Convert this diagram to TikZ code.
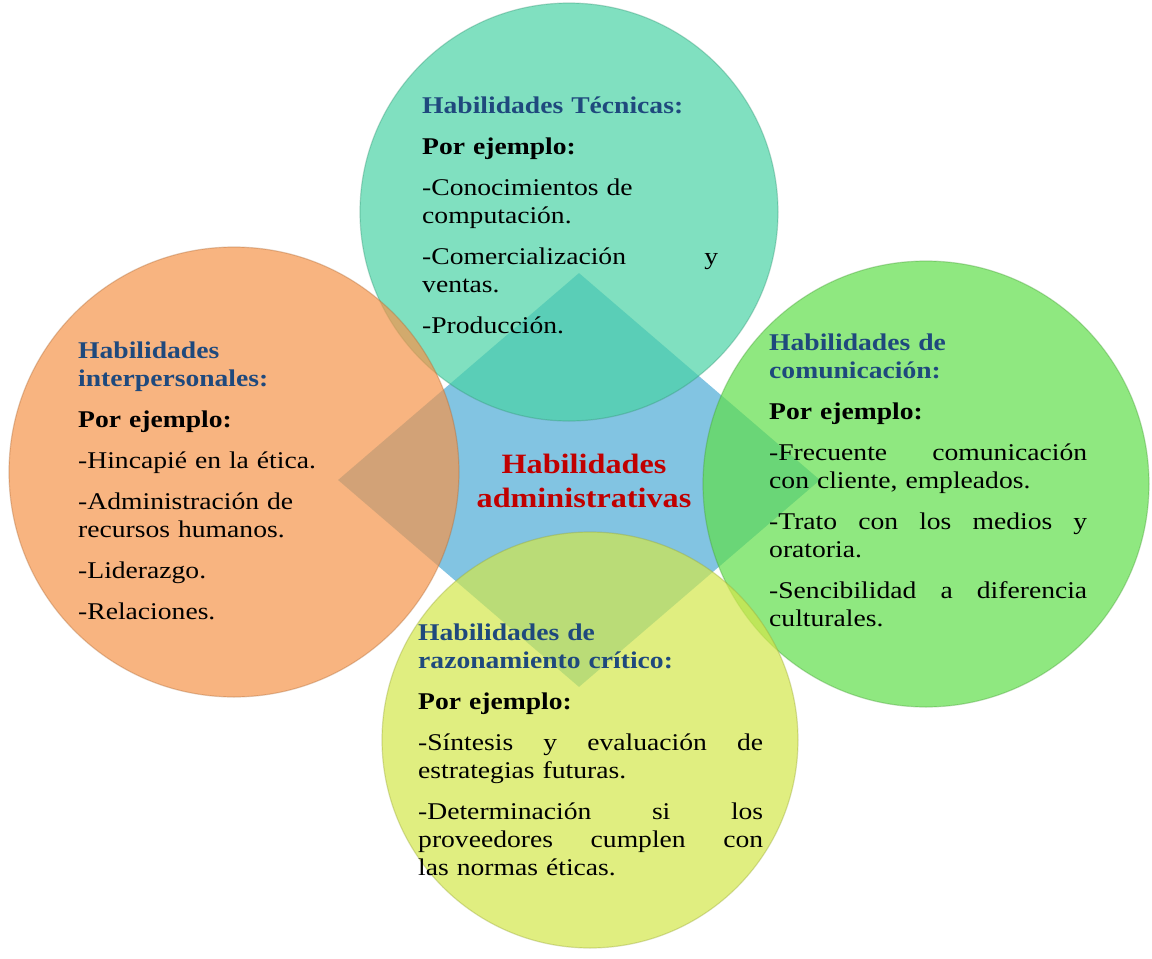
\documentclass[tikz,border=0pt]{standalone}
\usepackage{fontspec}
\setmainfont{Liberation Serif}[FakeStretch=1.15]
\usepackage{tikz}
\usetikzlibrary{shapes.geometric}

\definecolor{tecnica}{RGB}{74,211,165}
\definecolor{interp}{RGB}{245,148,74}
\definecolor{comunic}{RGB}{96,222,74}
\definecolor{razon}{RGB}{211,231,74}
\definecolor{admin}{RGB}{130,196,226}
\definecolor{titulo}{RGB}{31,73,125}
\definecolor{rojo}{RGB}{192,0,0}

\newcommand{\tit}[1]{{\color{titulo}\bfseries #1}}
\newcommand{\ejemplo}{\textbf{Por ejemplo:}}
\newcommand{\jline}[1]{\leavevmode\hbox to \hsize{\spaceskip=.25em plus 1fil\relax #1}}
\newcommand{\brk}{\\[13pt]}

\begin{document}
\begin{tikzpicture}[
    x=1pt, y=-1pt,
    bubble/.style={circle, draw, line width=1.2pt, draw opacity=0.35, fill opacity=0.7, inner sep=0pt},
    rombo/.style={diamond, fill=admin, inner sep=0pt, minimum width=482pt, minimum height=414pt},
    textbox/.style={anchor=base west, inner sep=0pt, align=left, font=\fontsize{24}{28}\selectfont}
]
\useasboundingbox (0,0) rectangle (1152,959);

% Centre
\node[rombo] (centro) at (579,480) {};

% Circles
\node[bubble, fill=tecnica, draw=tecnica!70!black, minimum size=418pt] (tec) at (569,212) {};
\node[bubble, fill=comunic, draw=comunic!70!black, minimum size=446pt] (com) at (926,484) {};
\node[bubble, fill=razon, draw=razon!70!black, minimum size=416pt] (raz) at (590,740) {};
\node[bubble, fill=interp, draw=interp!70!black, minimum size=450pt] (inter) at (234,472) {};

% Texts
\node[font=\fontsize{28}{34}\selectfont\bfseries, text=rojo, align=center] (admtxt) at (584,481) {Habilidades\\administrativas};

\node[textbox, text width=296pt] (tectxt) at (422,113) {\tit{Habilidades Técnicas:}\brk
  \ejemplo\brk
  -Conocimientos de\\computación.\brk
  \jline{-Comercialización y}\\ventas.\brk
  -Producción.};

\node[textbox, text width=260pt] (intertxt) at (78,358) {\tit{Habilidades}\\\tit{interpersonales:}\brk
  \ejemplo\brk
  -Hincapié en la ética.\brk
  -Administración de\\recursos humanos.\brk
  -Liderazgo.\brk
  -Relaciones.};

\node[textbox, text width=318pt] (comtxt) at (769,350) {\tit{Habilidades de}\\\tit{comunicación:}\brk
  \ejemplo\brk
  \jline{-Frecuente comunicación}\\con cliente, empleados.\brk
  \jline{-Trato con los medios y}\\oratoria.\brk
  \jline{-Sencibilidad a diferencia}\\culturales.};

\node[textbox, text width=345pt] (raztxt) at (418,640) {\tit{Habilidades de}\\\tit{razonamiento crítico:}\brk
  \ejemplo\brk
  \jline{-Síntesis y evaluación de}\\estrategias futuras.\brk
  \jline{-Determinación si los}\\\jline{proveedores cumplen con}\\las normas éticas.};

\end{tikzpicture}
\end{document}
